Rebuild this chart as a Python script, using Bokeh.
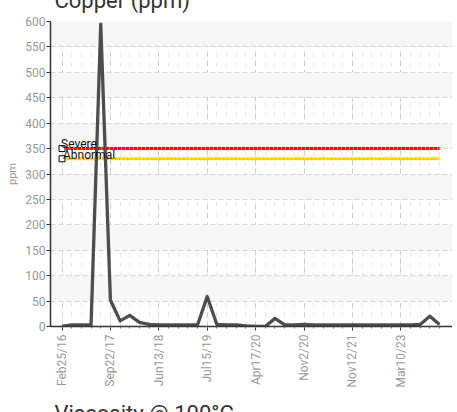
from math import pi
from bokeh.plotting import figure
from bokeh.models import FixedTicker, Title, Range1d
from bokeh.core.properties import value
from bokeh.embed import file_html
from bokeh.resources import INLINE

# ---- data ----
chart_title = "Copper (ppm)"
next_title = "Viscosity @ 100°C"
y_label = "ppm"
tick_labels = ["Feb25/16", "Sep22/17", "Jun13/18", "Jul15/19",
               "Apr17/20", "Nov2/20", "Nov12/21", "Mar10/23"]
label_every = 5
copper = [0, 3, 3, 3, 595, 52, 11, 22, 8, 4,
          3, 3, 3, 3, 3, 59, 4, 3, 3, 1,
          0, 0, 16, 3, 3, 4, 3, 3, 3, 3,
          3, 3, 3, 3, 3, 3, 3, 4, 20, 4]
limit_names = ["Severe", "Abnormal"]
limit_values = [350, 330]
limit_colors = ["#ff0000", "#ffcc00"]
y_ticks = list(range(0, 601, 50))

n = len(copper)
idx = list(range(n))
major = [i * label_every for i in range(len(tick_labels))]

p = figure(width=449, height=459, output_backend="svg", toolbar_location=None,
           x_range=Range1d(-1.19, 40.34), y_range=Range1d(0, 600),
           min_border_left=42, min_border_right=0, min_border_top=44,
           min_border_bottom=110)
p.margin = (-23, 0, -40, 3)
p.outline_line_color = None
p.background_fill_color = "white"
p.border_fill_color = "white"

font = value("Roboto")

xt = FixedTicker(ticks=major, minor_ticks=idx)
p.xaxis.ticker = xt
p.xgrid.ticker = xt
p.xaxis.major_label_overrides = {m: t for m, t in zip(major, tick_labels)}
p.xaxis.major_label_orientation = pi / 2
p.xaxis.major_label_standoff = 4
p.xaxis.major_tick_in = 0
p.xaxis.major_tick_out = 4
p.xaxis.minor_tick_in = 0
p.xaxis.minor_tick_out = 2

p.yaxis.ticker = FixedTicker(ticks=y_ticks)
p.ygrid.ticker = FixedTicker(ticks=y_ticks)
p.yaxis.axis_label = y_label
p.yaxis.axis_label_text_font_style = "normal"
p.yaxis.axis_label_text_font_size = "11px"
p.yaxis.axis_label_text_color = "#999999"
p.yaxis.axis_label_text_font = "Roboto"
p.yaxis.axis_label_standoff = 3
p.yaxis.major_label_standoff = 1
p.yaxis.major_tick_in = 0
p.yaxis.major_tick_out = 4
p.yaxis.minor_tick_out = 0
p.yaxis.minor_tick_in = 0

for ax in (p.xaxis, p.yaxis):
    ax.axis_line_color = "#333333"
    ax.axis_line_width = 1.5
    ax.major_tick_line_color = "#333333"
    ax.minor_tick_line_color = "#666666"
    ax.major_label_text_color = "#999999"
    ax.major_label_text_font = "Roboto"
    ax.major_label_text_font_size = "12px"

p.ygrid.grid_line_color = "#d4d4d4"
p.ygrid.grid_line_dash = "5 3"
p.ygrid.band_fill_color = "#f6f6f6"
p.ygrid.band_fill_alpha = 1.0
p.xgrid.grid_line_color = "#cccccc"
p.xgrid.grid_line_dash = "5 4"
p.xgrid.minor_grid_line_color = "#e6e6e6"
p.xgrid.minor_grid_line_dash = "4 6"

# limit lines
for v, c in zip(limit_values, limit_colors):
    p.line(x=idx, y=[v] * n, line_color=c, line_width=3, line_dash="3 1")

# main series
p.line(x=idx, y=copper, line_color="#4d4d4d", line_width=3.3, line_join="round")

# limit markers and names
p.scatter(x=[0] * len(limit_values), y=limit_values, marker="square", size=6,
          fill_color="white", line_color="black", line_width=1)
p.text(x=[0] * len(limit_values), y=limit_values, text=limit_names,
       text_font=font, text_font_size="12px", text_color="#111111",
       text_baseline="alphabetic", x_offset=[-1, 1], y_offset=[-4.5, -4])

top_title = Title(text=chart_title, align="left", offset=4, standoff=17,
                  text_font="Roboto", text_font_size="22px",
                  text_font_style="normal", text_color="#333333")
p.add_layout(top_title, "above")
bottom_title = Title(text=next_title, align="left", offset=4, standoff=16,
                     text_font="Roboto", text_font_size="22px",
                     text_font_style="normal", text_color="#333333")
p.add_layout(bottom_title, "below")

open("out.html", "w").write(file_html(p, INLINE))
